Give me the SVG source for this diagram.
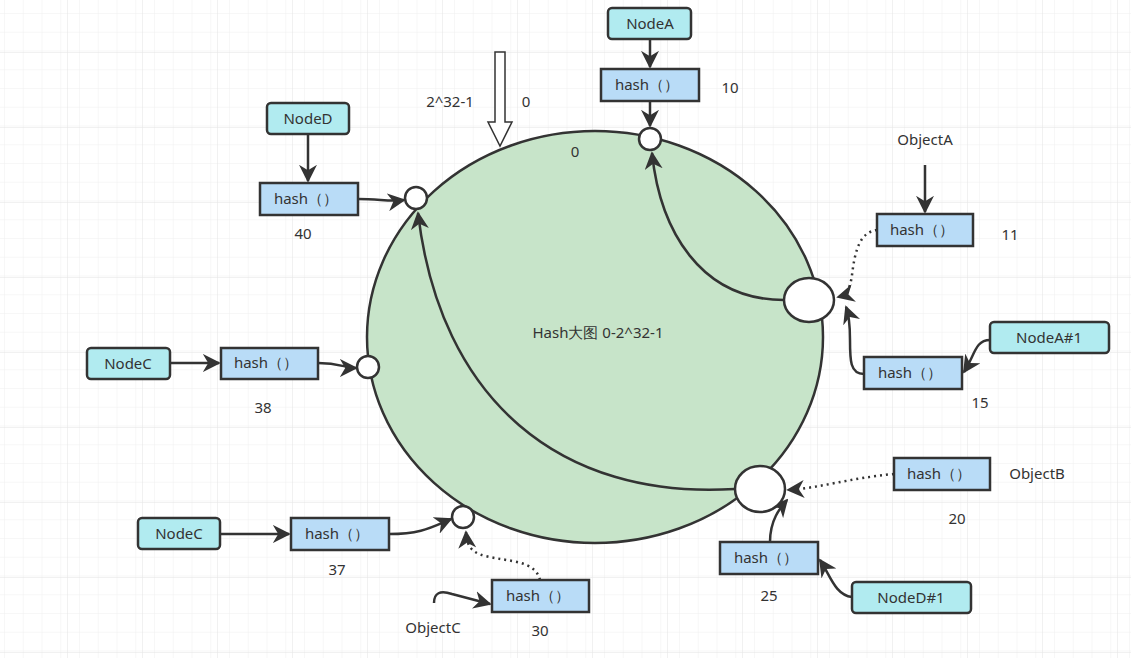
<svg xmlns="http://www.w3.org/2000/svg" width="1131" height="658" viewBox="0 0 1131 658">
<defs>
<pattern id="gm" width="18.75" height="18.75" patternUnits="userSpaceOnUse" x="5" y="14"><path d="M18.75 0V18.75H0" fill="none" stroke="#f0f0f0" stroke-width="1"/></pattern>
<pattern id="gM" width="75" height="75" patternUnits="userSpaceOnUse" x="67" y="52"><path d="M0 0V75M0 0H75" fill="none" stroke="#e4e4e4" stroke-width="1"/></pattern>
<marker id="b" viewBox="0 0 10 10" refX="9" refY="5" markerWidth="18" markerHeight="18" orient="auto" markerUnits="userSpaceOnUse"><path d="M0 0L10 5L0 10L3 5Z" fill="#333"/></marker>
</defs>
<style>
.t{font-family:"Noto Sans","Liberation Sans",sans-serif;font-size:15px;fill:#333;text-anchor:middle}
.n{fill:#b1ebf0;stroke:#333;stroke-width:2.5}
.h{fill:#b9dcf7;stroke:#333;stroke-width:2.5}
.c{fill:#fff;stroke:#333;stroke-width:2.5}
.l{fill:none;stroke:#333;stroke-width:2.5}
.d{fill:none;stroke:#333;stroke-width:2.5;stroke-dasharray:2 4}
</style>
<rect width="1131" height="658" fill="#fff"/>
<rect width="1131" height="658" fill="url(#gm)"/>
<rect width="1131" height="658" fill="url(#gM)"/>
<g id="ring"><ellipse cx="595" cy="337" rx="228" ry="206" fill="#c7e4c9" stroke="#333" stroke-width="2.5"/><text class="t" x="598" y="338">Hash大图 0-2^32-1</text></g>
<g id="bigarrow"><path d="M495 52H505V122H512L500 146L488 122H495Z" fill="#fff" stroke="#333" stroke-width="1.5"/></g>
<g id="connectors">
<path class="l" d="M650 39V67" marker-end="url(#b)"/>
<path class="l" d="M650 101V126" marker-end="url(#b)"/>
<path class="l" d="M784 300C700 300 660 230 652 153" marker-end="url(#b)"/>
<path class="l" d="M308 134V181" marker-end="url(#b)"/>
<path class="l" d="M358 199C380 199 390 202 404 200" marker-end="url(#b)"/>
<path class="l" d="M170 363H219" marker-end="url(#b)"/>
<path class="l" d="M318 363C340 363 345 368 356 368" marker-end="url(#b)"/>
<path class="l" d="M220 534H289" marker-end="url(#b)"/>
<path class="l" d="M389 534C420 534 430 528 451 519" marker-end="url(#b)"/>
<path class="l" d="M434 603C434 593 440 590 452 594L490 604" marker-end="url(#b)"/>
<path class="d" d="M540 580C535 560 510 562 485 556C470 552 467 545 466 532" marker-end="url(#b)"/>
<path class="l" d="M735 489C560 500 440 400 418 213" marker-end="url(#b)"/>
<path class="l" d="M925 165V212" marker-end="url(#b)"/>
<path class="d" d="M877 230C860 232 855 250 852 275C850 290 846 295 838 297" marker-end="url(#b)"/>
<path class="l" d="M864 374C850 374 850 360 850 340C850 325 849 315 846 307" marker-end="url(#b)"/>
<path class="l" d="M990 340C975 340 975 355 964 372" marker-end="url(#b)"/>
<path class="d" d="M894 474C850 478 820 488 788 490" marker-end="url(#b)"/>
<path class="l" d="M770 542C770 520 780 508 787 500" marker-end="url(#b)"/>
<path class="l" d="M852 597C835 595 830 575 820 560" marker-end="url(#b)"/>
</g>
<g id="points">
<circle class="c" cx="650" cy="139" r="11"/>
<circle class="c" cx="416" cy="198" r="11"/>
<circle class="c" cx="368" cy="367" r="11"/>
<circle class="c" cx="463" cy="517" r="11"/>
<ellipse class="c" cx="809" cy="300" rx="25" ry="22"/>
<ellipse class="c" cx="760" cy="489" rx="25" ry="23"/>
</g>
<g id="nodeA"><rect class="n" x="608" y="8" width="83" height="31" rx="4"/><text class="t" x="650" y="29">NodeA</text></g>
<g id="nodeD"><rect class="n" x="267" y="103" width="82" height="31" rx="4"/><text class="t" x="308" y="124">NodeD</text></g>
<g id="nodeC1"><rect class="n" x="87" y="348" width="83" height="31" rx="4"/><text class="t" x="128" y="369">NodeC</text></g>
<g id="nodeA1"><rect class="n" x="990" y="322" width="119" height="31" rx="4"/><text class="t" x="1049" y="343">NodeA#1</text></g>
<g id="nodeC2"><rect class="n" x="138" y="518" width="82" height="31" rx="4"/><text class="t" x="179" y="539">NodeC</text></g>
<g id="nodeD1"><rect class="n" x="852" y="582" width="119" height="31" rx="4"/><text class="t" x="911" y="603">NodeD#1</text></g>
<g id="h10"><rect class="h" x="601" y="69" width="98" height="32"/><text class="t" x="647" y="90">hash（）</text></g>
<g id="h40"><rect class="h" x="260" y="183" width="98" height="32"/><text class="t" x="306" y="204">hash（）</text></g>
<g id="h11"><rect class="h" x="877" y="214" width="96" height="32"/><text class="t" x="922" y="235">hash（）</text></g>
<g id="h15"><rect class="h" x="864" y="357" width="98" height="32"/><text class="t" x="910" y="378">hash（）</text></g>
<g id="h38"><rect class="h" x="221" y="348" width="97" height="31"/><text class="t" x="266" y="368">hash（）</text></g>
<g id="h20"><rect class="h" x="894" y="458" width="96" height="32"/><text class="t" x="939" y="479">hash（）</text></g>
<g id="h37"><rect class="h" x="291" y="518" width="98" height="32"/><text class="t" x="337" y="539">hash（）</text></g>
<g id="h30"><rect class="h" x="492" y="580" width="97" height="32"/><text class="t" x="538" y="601">hash（）</text></g>
<g id="h25"><rect class="h" x="720" y="542" width="98" height="32"/><text class="t" x="766" y="563">hash（）</text></g>
<g id="labels">
<text class="t" x="450" y="107">2^32-1</text>
<text class="t" x="526" y="107">0</text>
<text class="t" x="575" y="157">0</text>
<text class="t" x="730" y="93">10</text>
<text class="t" x="1010" y="240">11</text>
<text class="t" x="980" y="408">15</text>
<text class="t" x="957" y="524">20</text>
<text class="t" x="769" y="601">25</text>
<text class="t" x="540" y="636">30</text>
<text class="t" x="337" y="575">37</text>
<text class="t" x="263" y="413">38</text>
<text class="t" x="303" y="239">40</text>
<text class="t" x="925" y="145">ObjectA</text>
<text class="t" x="1037" y="479">ObjectB</text>
<text class="t" x="433" y="633">ObjectC</text>
</g>
</svg>
